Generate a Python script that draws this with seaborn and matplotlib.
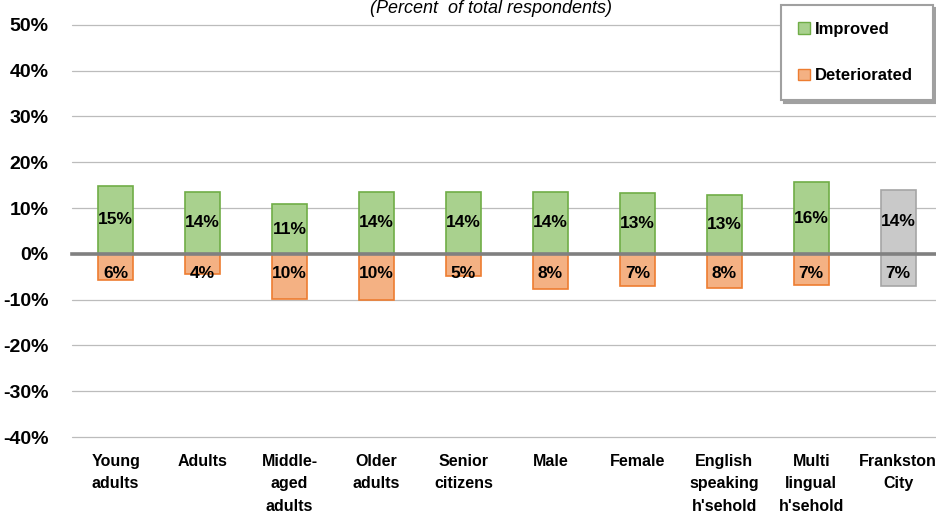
import pandas as pd
import numpy as np
import matplotlib.pyplot as plt
import matplotlib.transforms as mtransforms
from matplotlib.patches import Patch
import seaborn as sns

sns.set_style('white')
plt.rcParams['font.family'] = ['Liberation Sans', 'DejaVu Sans']
plt.rcParams['text.color'] = 'black'
plt.rcParams['ytick.color'] = 'black'

# Data
categories = ['Young\nadults', 'Adults', 'Middle-\naged\nadults', 'Older\nadults',
              'Senior\ncitizens', 'Male', 'Female', 'English\nspeaking\nh\'sehold',
              'Multi\nlingual\nh\'sehold', 'Frankston\nCity']
improved = [14.8, 13.6, 10.8, 13.6, 13.6, 13.6, 13.2, 12.9, 15.6, 13.9]
deteriorated = [-5.8, -4.3, -9.8, -10.1, -4.8, -7.6, -7.0, -7.4, -6.7, -7.0]
improved_labels = ['15%', '14%', '11%', '14%', '14%', '14%', '13%', '13%', '16%', '14%']
deteriorated_labels = ['6%', '4%', '10%', '10%', '5%', '8%', '7%', '8%', '7%', '7%']
yticks = [-40, -30, -20, -10, 0, 10, 20, 30, 40, 50]

green, green_edge = '#a9d18e', '#70ad47'
orange, orange_edge = '#f4b183', '#ed7d31'
grey, grey_edge = '#c9c9c9', '#a5a5a5'

df = pd.DataFrame({'cat': categories, 'improved': improved, 'deteriorated': deteriorated})

fig = plt.figure(figsize=(9.37, 5.16), dpi=100)
ax = fig.add_axes([0.077, 0.153, 0.928, 0.799])

pal_imp = [green] * 9 + [grey]
pal_det = [orange] * 9 + [grey]
edge_imp = [green_edge] * 9 + [grey_edge]
edge_det = [orange_edge] * 9 + [grey_edge]

sns.barplot(data=df, x='cat', y='improved', hue='cat', palette=pal_imp,
            saturation=1, legend=False, width=0.4, ax=ax, zorder=3)
n = len(ax.patches)
sns.barplot(data=df, x='cat', y='deteriorated', hue='cat', palette=pal_det,
            saturation=1, legend=False, width=0.4, ax=ax, zorder=3)

for i, p in enumerate(ax.patches):
    if i < n:
        p.set_edgecolor(edge_imp[i])
    else:
        p.set_edgecolor(edge_det[i - n])
    p.set_linewidth(1.2)

# data labels: improved centred, deteriorated just inside the base
imp_cont = ax.containers[:len(categories)]
for k, c in enumerate(imp_cont):
    ax.bar_label(c, labels=[improved_labels[k]], label_type='center',
                 fontsize=12.5, fontweight='bold', zorder=5)
for i, lbl in enumerate(deteriorated_labels):
    ax.annotate(lbl, xy=(i, 0), xytext=(0, -14), textcoords='offset points',
                ha='center', va='center', fontsize=12.5, fontweight='bold', zorder=5)

ax.set_ylim(-40, 50)
ax.set_xlim(-0.5, len(categories) - 0.5)
ax.set_yticks(yticks)
ax.set_yticklabels([f'{v}%' for v in yticks], fontsize=14, fontweight='bold')
ax.yaxis.grid(True, color='#bcbcbc', linewidth=0.9, zorder=0)
for gl in ax.yaxis.get_gridlines():
    gl.set_clip_on(False)
ax.set_axisbelow(True)
ax.tick_params(axis='y', length=0, pad=17)
ax.set_xlabel('')
ax.set_ylabel('')
for s in ['left', 'right', 'top']:
    ax.spines[s].set_visible(False)

# zero axis with boundary ticks
ax.spines['bottom'].set_position(('data', 0))
ax.spines['bottom'].set_color('#808080')
ax.spines['bottom'].set_linewidth(2.6)
ax.spines['bottom'].set_zorder(4)
ax.set_xticks(np.arange(-0.5, len(categories), 1.0))
ax.set_xticklabels([])
ax.tick_params(axis='x', length=4, width=2.5, color='#808080', direction='out')

# category labels below the plot
trans = mtransforms.blended_transform_factory(ax.transData, ax.transAxes)
for i, cat in enumerate(categories):
    ax.text(i, -0.04, cat, transform=trans, ha='center', va='top',
            fontsize=11.5, fontweight='bold', linespacing=1.65)

fig.text(0.524, 1.0, '(Percent  of total respondents)', ha='center', va='top',
         fontsize=13, style='italic')

handles = [Patch(facecolor=green, edgecolor=green_edge, label='Improved'),
           Patch(facecolor=orange, edgecolor=orange_edge, label='Deteriorated')]
leg = fig.legend(handles=handles, loc='upper left',
                 bbox_to_anchor=(0.834, 0.81, 0.162, 0.18), mode='expand',
                 frameon=True, fancybox=False, shadow={'color': '#a0a0a0', 'alpha': 1},
                 prop={'weight': 'bold', 'size': 12}, handlelength=0.7,
                 handleheight=0.7, handletextpad=0.3, labelspacing=1.9,
                 borderpad=1.0, borderaxespad=0)
leg.get_frame().set_edgecolor('#a0a0a0')
leg.get_frame().set_linewidth(1.5)

fig.savefig('out.png', dpi=100)
